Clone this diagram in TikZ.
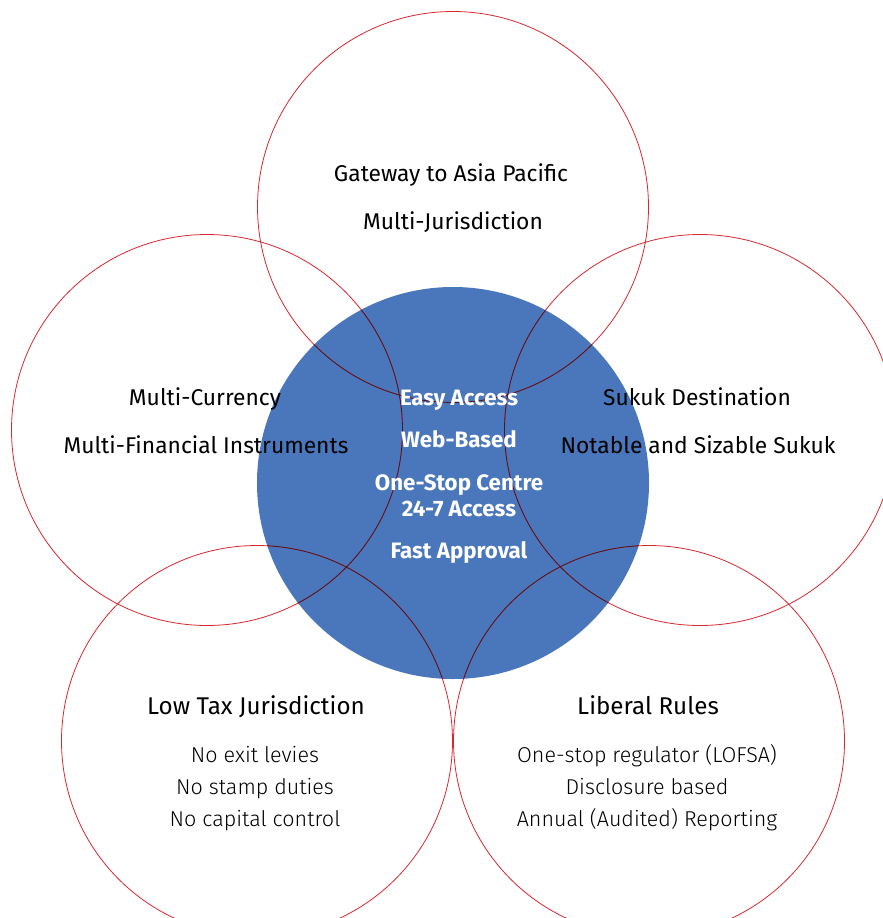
\documentclass[tikz,border=0pt]{standalone}
\usepackage{fontspec}
\setmainfont{Fira Sans}
\newfontfamily\itemfont{Fira Sans Light}
\definecolor{ringred}{HTML}{D7282F}
\definecolor{hubblue}{HTML}{4A77BC}
\definecolor{ringdark}{HTML}{3F1A2C}

\begin{document}
\begin{tikzpicture}[x=1pt,y=-1pt,
    ring/.style={circle,draw=ringred,line width=0.8pt,minimum size=391pt,inner sep=0pt},
    head/.style={anchor=base,font=\fontsize{22.8}{26}\selectfont},
    bighead/.style={anchor=base,font=\fontsize{24.2}{28}\selectfont},
    point/.style={anchor=base,font=\itemfont\fontsize{21.5}{25}\selectfont},
    hubtext/.style={anchor=base,text=white,font=\bfseries\fontsize{22.3}{26}\selectfont}]
  \useasboundingbox (0,0) rectangle (883,918);
  \node[circle,fill=hubblue,minimum size=392pt,inner sep=0pt] (hub) at (453,483) {};
  \draw
    (453,207) node[ring] (asia){}
    (207,430) node[ring] (currency){}
    (700,430) node[ring] (sukuk){}
    (257,741) node[ring] (tax){}
    (649,741) node[ring] (rules){};
  \begin{scope}
    \clip (hub.center) circle[radius=196pt];
    \foreach \r in {asia,currency,sukuk,tax,rules}
      \draw[ringdark,line width=0.8pt] (\r.center) circle[radius=195.5pt];
  \end{scope}
  \draw
    (451,181) node[head] (asia1){Gateway to Asia Pacific}
    (453,229) node[head] (asia2){Multi-Jurisdiction}
    (205,405) node[head] (currency1){Multi-Currency}
    (206,453) node[head] (currency2){Multi-Financial Instruments}
    (697,405) node[head] (sukuk1){Sukuk Destination}
    (698,453) node[head] (sukuk2){Notable and Sizable Sukuk}
    (256,714) node[bighead] (tax0){Low Tax Jurisdiction}
    (648,714) node[bighead] (rules0){Liberal Rules};
  \draw
    (255,762) node[point] (tax1){No exit levies}
    (255,794) node[point] (tax2){No stamp duties}
    (255,826) node[point] (tax3){No capital control}
    (647,762) node[point] (rules1){One-stop regulator (LOFSA)}
    (647,794) node[point] (rules2){Disclosure based}
    (647,826) node[point] (rules3){Annual (Audited) Reporting};
  \draw
    (459,405) node[hubtext] (hub1){Easy Access}
    (459,447) node[hubtext] (hub2){Web-Based}
    (459,490) node[hubtext] (hub3){One-Stop Centre}
    (459,516) node[hubtext] (hub4){24-7 Access}
    (459,558) node[hubtext] (hub5){Fast Approval};
\end{tikzpicture}
\end{document}
